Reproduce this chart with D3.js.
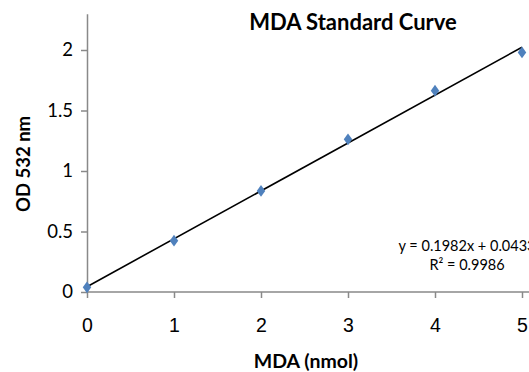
<!DOCTYPE html>
<html><head><meta charset="utf-8">
<script src="https://cdn.jsdelivr.net/npm/d3@7"></script>
<style>body{margin:0;background:#fff}svg{display:block}</style>
</head><body>
<script>
const xValues = [0, 1, 2, 3, 4, 5];
const odValues = [0.039, 0.424, 0.835, 1.262, 1.664, 1.98];
const trendX = [0, 5];
const trendY = [0.044, 2.023];
const xTicks = [0, 1, 2, 3, 4, 5];
const yTicks = [0, 0.5, 1, 1.5, 2];
const titleText = "MDA Standard Curve";
const xTitle = "MDA (nmol)";
const yTitle = "OD 532 nm";
const eqLines = ["y = 0.1982x + 0.0433", "R² = 0.9986"];

const W = 529, H = 372;
const svg = d3.select("body").append("svg").attr("width", W).attr("height", H);
const x = d3.scaleLinear().domain([0, 5]).range([87, 522]);
const y = d3.scaleLinear().domain([0, 2.3]).range([292, 13.7]);
const axisCol = "#898989";
const calib = "Lato, 'Open Sans', sans-serif";

// Y axis
const ya = svg.append("g").attr("transform", "translate(87,0)")
  .call(d3.axisLeft(y).tickValues(yTicks).tickSize(6).tickSizeOuter(0).tickFormat(d3.format("")));
ya.select(".domain").attr("stroke", axisCol).attr("stroke-width", 1.5);
ya.selectAll(".tick line").attr("stroke", axisCol).attr("stroke-width", 1.5);
ya.selectAll(".tick text").attr("font-family", calib).attr("font-size", 18.5).attr("fill", "#000").attr("x", -14);

// X axis
const xa = svg.append("g").attr("transform", "translate(0,292)")
  .call(d3.axisBottom(x).tickValues(xTicks).tickSize(6).tickSizeOuter(0).tickFormat(d3.format("d")));
xa.select(".domain").attr("stroke", axisCol).attr("stroke-width", 1.5).attr("d", "M87,0H529");
xa.selectAll(".tick line").attr("stroke", axisCol).attr("stroke-width", 1.5);
xa.selectAll(".tick text").attr("font-family", "'Liberation Sans', Arial, sans-serif").attr("font-size", 19.5).attr("fill", "#000").attr("y", 26);

// trendline
svg.append("line")
  .attr("x1", x(trendX[0])).attr("y1", y(trendY[0]))
  .attr("x2", x(trendX[1])).attr("y2", y(trendY[1]))
  .attr("stroke", "#000").attr("stroke-width", 1.6);

// markers
const diamond = d3.symbol().type(d3.symbolDiamond).size(40);
svg.append("g").selectAll("path").data(xValues).join("path")
  .attr("d", diamond)
  .attr("transform", (d, i) => `translate(${x(d)},${y(odValues[i])}) scale(1.25,1)`)
  .attr("fill", "#4F81BD");

// title
svg.append("text").attr("x", 353).attr("y", 30).attr("text-anchor", "middle")
  .attr("font-family", calib).attr("font-weight", "bold").attr("font-size", 22)
  .text(titleText);

// axis titles
svg.append("text").attr("x", 306).attr("y", 368).attr("text-anchor", "middle")
  .attr("font-family", calib).attr("font-weight", "bold").attr("font-size", 19.5)
  .text(xTitle);
svg.append("text").attr("transform", "translate(30,164) rotate(-90)").attr("text-anchor", "middle")
  .attr("font-family", calib).attr("font-weight", "bold").attr("font-size", 18.5)
  .text(yTitle);

// equation
svg.append("text").attr("x", 467).attr("y", 251).attr("text-anchor", "middle")
  .attr("font-family", calib).attr("font-size", 14.5).text(eqLines[0]);
svg.append("text").attr("x", 467).attr("y", 270).attr("text-anchor", "middle")
  .attr("font-family", calib).attr("font-size", 14.5).text(eqLines[1]);
</script>
</body></html>
